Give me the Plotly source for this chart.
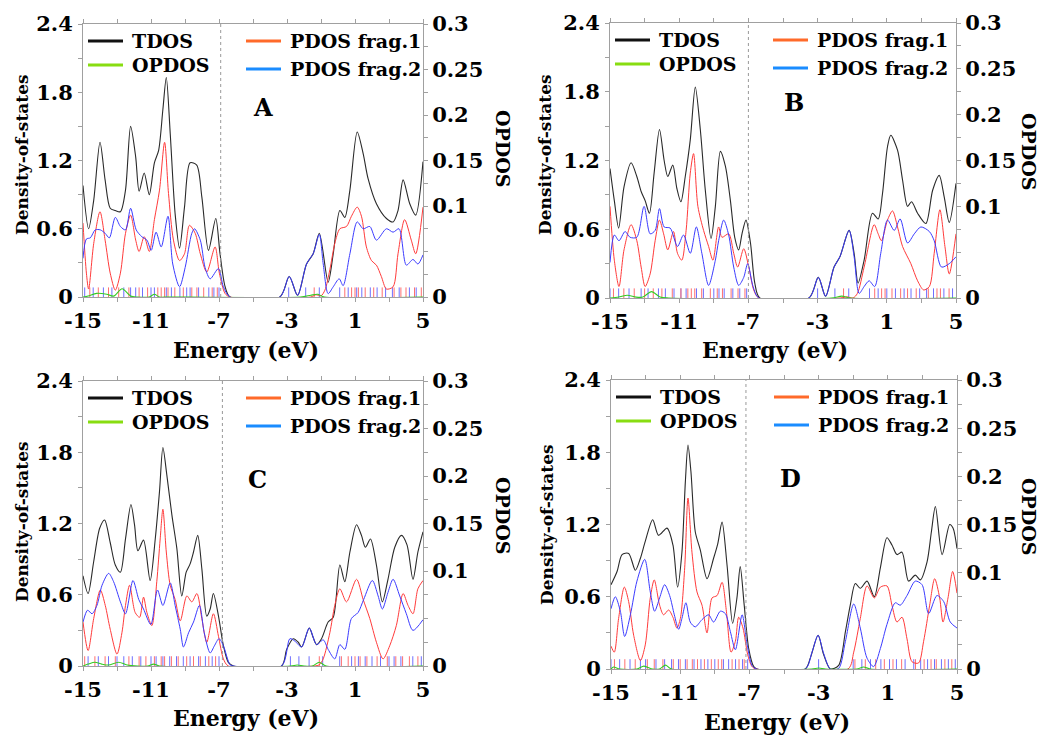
import plotly.graph_objects as go

W, H = 1043, 735

# ---------------- DATA ----------------
panel_labels = ["A", "B", "C", "D"]
homo_levels = [-6.9, -7.0, -6.8, -7.2]

# Panel A
A_tdos_x = [-15, -14.67, -14.37, -14.0, -13.7, -13.4, -13.1, -12.8, -12.5, -12.2, -11.9, -11.7, -11.4, -11.1, -10.8, -10.55, -10.3, -10.1, -9.87, -9.58, -9.32, -9.03, -8.7, -8.31, -8.01, -7.62, -7.19, -6.94, -6.64, -6.35,
            -3.42, -2.87, -2.38, -1.85, -1.46, -1.1, -0.58, -0.28, 0.11, 0.4, 0.7, 1.13, 1.48, 1.77, 2.26, 2.85, 3.24, 3.53, 3.83, 4.22, 4.57, 5.0]
A_tdos_y = [0.98, 0.60, 0.85, 1.36, 1.03, 0.78, 0.76, 0.75, 0.94, 1.50, 1.23, 0.93, 1.09, 0.90, 1.18, 1.29, 1.65, 1.93, 1.44, 0.73, 0.43, 0.79, 1.18, 1.16, 0.88, 0.41, 0.69, 0.38, 0.09, 0.0,
            0.0, 0.18, 0.015, 0.29, 0.38, 0.56, 0.13, 0.38, 0.76, 0.70, 0.94, 1.45, 1.26, 1.04, 0.82, 0.69, 0.66, 0.76, 1.03, 0.82, 0.72, 1.19]
A_frag1_x = [-15, -14.8, -14.67, -14.37, -14.0, -13.7, -13.4, -13.1, -12.8, -12.5, -12.2, -11.9, -11.7, -11.4, -11.1, -10.8, -10.5, -10.2, -9.97, -9.68, -9.32, -9.03, -8.74, -8.4, -8.1, -7.72, -7.23, -6.98, -6.64, -6.35,
             -1.6, -1.3, -1.0, -0.77, -0.48, -0.19, 0.11, 0.5, 0.79, 1.13, 1.38, 1.67, 1.97, 2.26, 2.55, 2.85, 3.24, 3.53, 3.92, 4.31, 4.57, 5.0]
A_frag1_y = [0.65, 0.21, 0.07, 0.47, 0.75, 0.50, 0.21, 0.06, 0.21, 0.56, 0.72, 0.50, 0.40, 0.53, 0.40, 0.68, 0.94, 1.36, 0.91, 0.50, 0.32, 0.38, 0.63, 0.56, 0.38, 0.22, 0.44, 0.21, 0.03, 0.0,
             0.0, 0.02, 0.01, 0.06, 0.24, 0.47, 0.60, 0.62, 0.71, 0.79, 0.71, 0.44, 0.32, 0.28, 0.18, 0.07, 0.09, 0.38, 0.68, 0.50, 0.38, 0.79]
A_frag2_x = [-15, -14.8, -14.57, -14.28, -13.98, -13.7, -13.45, -13.1, -12.8, -12.5, -12.2, -11.87, -11.54, -11.24, -10.99, -10.7, -10.4, -10.0, -9.72, -9.32, -8.99, -8.6, -8.44, -8.1, -7.82, -7.52, -7.03, -6.74, -6.35,
             -3.42, -2.87, -2.38, -1.85, -1.46, -1.1, -0.87, -0.58, -0.28, 0.07, 0.3, 0.7, 1.13, 1.48, 1.87, 2.26, 2.85, 3.24, 3.59, 4.02, 4.41, 4.7, 5.0]
A_frag2_y = [0.34, 0.51, 0.52, 0.59, 0.59, 0.56, 0.52, 0.70, 0.62, 0.59, 0.78, 0.59, 0.53, 0.50, 0.41, 0.57, 0.44, 0.71, 0.29, 0.09, 0.26, 0.56, 0.60, 0.50, 0.26, 0.16, 0.25, 0.09, 0.0,
             0.0, 0.18, 0.015, 0.29, 0.38, 0.55, 0.29, 0.03, 0.09, 0.16, 0.10, 0.38, 0.66, 0.60, 0.62, 0.50, 0.60, 0.57, 0.60, 0.28, 0.33, 0.29, 0.37]
A_opdos_x = [-15, -14.7, -14.2, -13.6, -13.2, -12.7, -12.2, -11.8, -11.1, -10.8, -10.5, -10.0, -2.2, -1.6, -1.2, -0.8, 5.0]
A_opdos_y = [0, 0.001, 0.004, 0.003, 0.001, 0.009, 0.001, 0, 0, 0.003, 0, 0, 0, 0.002, 0.003, 0, 0]
A_lvl1 = [-14.6, -14.1, -13.5, -12.9, -12.3, -11.7, -11.2, -10.6, -10.4, -10.2, -10.0, -9.6, -9.1, -8.6, -8.3, -7.9, -7.4, -7.1, -1.4, 0.4, 0.8, 1.0, 1.2, 1.6, 2.1, 2.6, 3.3, 3.7, 4.0, 4.5, 4.9]
A_lvl2 = [-14.9, -14.4, -13.8, -13.3, -12.6, -12.2, -11.9, -11.5, -11.0, -10.8, -10.1, -9.8, -9.3, -8.9, -8.7, -8.2, -7.6, -7.3, -7.0, -2.9, -1.9, -1.1, 0.1, 0.6, 1.1, 1.4, 1.9, 2.3, 2.8, 3.2, 3.6, 4.2, 4.6]

# Panel B
B_tdos_x = [-15, -14.75, -14.5, -14.19, -13.78, -13.45, -13.2, -12.97, -12.72, -12.45, -12.14, -11.87, -11.66, -11.37, -11.14, -10.9, -10.65, -10.36, -10.07, -9.78, -9.49, -9.16, -8.91, -8.62, -8.33, -8.04, -7.79, -7.56, -7.37, -7.14, -6.88, -6.63, -6.34,
            -3.5, -2.96, -2.54, -2.05, -1.71, -1.18, -0.89, -0.66, -0.31, 0.17, 0.5, 0.75, 1.04, 1.23, 1.62, 1.91, 2.2, 2.43, 2.78, 3.26, 3.65, 4.03, 4.32, 4.61, 5.0]
B_tdos_y = [1.13, 0.85, 0.61, 0.97, 1.18, 1.06, 0.93, 0.85, 0.74, 1.09, 1.47, 1.20, 1.06, 1.16, 0.96, 0.84, 1.06, 1.38, 1.84, 1.47, 0.94, 0.52, 0.80, 1.28, 1.15, 0.85, 0.53, 0.42, 0.56, 0.68, 0.48, 0.13, 0.0,
            0.0, 0.18, 0.015, 0.27, 0.36, 0.59, 0.39, 0.13, 0.33, 0.74, 0.69, 0.91, 1.32, 1.42, 1.29, 1.03, 0.80, 0.84, 0.74, 0.65, 0.94, 1.07, 0.88, 0.66, 1.00]
B_frag1_x = [-15, -14.75, -14.48, -14.19, -13.78, -13.45, -13.2, -12.97, -12.68, -12.39, -12.14, -11.9, -11.66, -11.33, -11.1, -10.85, -10.6, -10.36, -10.17, -9.92, -9.59, -9.3, -9.05, -8.72, -8.53, -8.14, -7.85, -7.62, -7.27, -6.98, -6.69, -6.4,
             -1.7, -1.3, -0.95, -0.7, -0.31, 0.27, 0.5, 0.69, 1.04, 1.33, 1.62, 1.91, 2.39, 2.78, 3.13, 3.46, 3.74, 4.07, 4.36, 4.61, 5.0]
B_frag1_y = [0.80, 0.33, 0.10, 0.42, 0.64, 0.50, 0.27, 0.10, 0.21, 0.50, 0.68, 0.56, 0.42, 0.58, 0.39, 0.33, 0.59, 1.09, 1.26, 0.80, 0.59, 0.45, 0.33, 0.62, 0.53, 0.56, 0.39, 0.27, 0.43, 0.27, 0.07, 0.0,
             0.0, 0.01, 0.0, 0.04, 0.27, 0.64, 0.56, 0.50, 0.68, 0.76, 0.62, 0.45, 0.30, 0.15, 0.07, 0.10, 0.39, 0.77, 0.45, 0.21, 0.56]
B_frag2_x = [-15, -14.75, -14.48, -14.13, -13.84, -13.45, -13.03, -12.68, -12.39, -12.14, -11.87, -11.52, -11.1, -10.75, -10.36, -10.01, -9.69, -9.3, -8.91, -8.72, -8.43, -8.14, -7.85, -7.56, -7.27, -7.04, -6.73, -6.4,
             -3.5, -2.96, -2.54, -2.05, -1.71, -1.18, -0.89, -0.6, -0.31, -0.02, 0.3, 0.65, 1.04, 1.43, 1.77, 2.2, 2.59, 2.97, 3.46, 3.74, 4.16, 4.61, 5.0]
B_frag2_y = [0.31, 0.55, 0.50, 0.58, 0.53, 0.53, 0.80, 0.56, 0.59, 0.78, 0.62, 0.61, 0.45, 0.55, 0.39, 0.62, 0.39, 0.11, 0.33, 0.50, 0.68, 0.55, 0.27, 0.11, 0.18, 0.30, 0.10, 0.0,
             0.0, 0.18, 0.015, 0.27, 0.36, 0.59, 0.36, 0.04, 0.10, 0.15, 0.10, 0.39, 0.68, 0.59, 0.69, 0.48, 0.56, 0.62, 0.58, 0.50, 0.27, 0.30, 0.36]
B_opdos_x = [-15, -14.5, -14.0, -13.5, -13.1, -12.6, -12.1, -11.6, -2.2, -1.6, -1.1, 5.0]
B_opdos_y = [0, 0.001, 0.003, 0.001, 0.001, 0.007, 0.001, 0, 0, 0.002, 0, 0]
B_lvl1 = [-14.8, -14.2, -13.6, -13.0, -12.5, -12.0, -11.4, -10.9, -10.5, -10.3, -10.1, -9.7, -9.2, -8.8, -8.5, -8.0, -7.6, -7.2, -1.5, 0.3, 0.7, 0.9, 1.3, 1.8, 2.2, 2.7, 3.4, 3.9, 4.1, 4.6]
B_lvl2 = [-15.0, -14.5, -13.9, -13.2, -12.8, -12.2, -11.8, -11.3, -10.9, -10.6, -10.0, -9.6, -9.0, -8.7, -8.4, -7.9, -7.5, -7.1, -3.0, -2.0, -1.2, 0.0, 0.5, 1.0, 1.5, 2.0, 2.4, 2.9, 3.3, 3.7, 4.3, 4.8]

# Panel C
C_tdos_x = [-15, -14.7, -14.37, -14.02, -13.73, -13.4, -13.1, -12.8, -12.5, -12.18, -11.97, -11.77, -11.44, -11.05, -10.75, -10.5, -10.3, -10.07, -9.77, -9.48, -9.19, -8.93, -8.7, -8.5, -8.25, -8.01, -7.72, -7.52, -7.33, -7.03, -6.74, -6.45, -6.15,
            -3.32, -3.02, -2.63, -2.34, -2.14, -1.69, -1.46, -1.26, -0.97, -0.58, -0.28, 0.11, 0.4, 0.7, 1.09, 1.38, 1.61, 1.91, 2.26, 2.61, 2.94, 3.34, 3.73, 4.06, 4.41, 4.7, 5.0]
C_tdos_y = [0.76, 0.61, 0.88, 1.16, 1.23, 1.04, 0.85, 0.79, 1.07, 1.36, 1.19, 0.97, 1.06, 0.72, 1.07, 1.47, 1.84, 1.61, 1.27, 0.99, 0.59, 0.79, 0.86, 0.96, 1.10, 0.82, 0.42, 0.48, 0.61, 0.42, 0.17, 0.03, 0.0,
            0.0, 0.14, 0.23, 0.20, 0.16, 0.32, 0.24, 0.18, 0.23, 0.37, 0.41, 0.85, 0.71, 0.96, 1.19, 1.10, 1.00, 1.07, 0.85, 0.54, 0.73, 1.00, 1.10, 1.02, 0.73, 0.96, 1.13]
C_frag1_x = [-15, -14.7, -14.37, -13.98, -13.69, -13.4, -13.0, -12.71, -12.5, -12.26, -11.93, -11.67, -11.44, -11.24, -10.95, -10.66, -10.46, -10.3, -10.1, -9.87, -9.58, -9.28, -8.89, -8.6, -8.3, -8.01, -7.72, -7.33, -7.03, -6.74, -6.45,
             -1.4, -1.1, -0.87, -0.48, -0.19, 0.11, 0.5, 1.09, 1.48, 1.87, 2.26, 2.65, 3.04, 3.43, 3.83, 4.12, 4.41, 4.7, 5.0]
C_frag1_y = [0.37, 0.13, 0.40, 0.64, 0.51, 0.31, 0.10, 0.28, 0.51, 0.68, 0.45, 0.41, 0.58, 0.45, 0.34, 0.71, 1.07, 1.32, 0.96, 0.68, 0.56, 0.38, 0.59, 0.54, 0.61, 0.40, 0.20, 0.44, 0.25, 0.06, 0.0,
             0.0, 0.01, 0.06, 0.28, 0.51, 0.65, 0.54, 0.73, 0.56, 0.40, 0.20, 0.06, 0.17, 0.34, 0.61, 0.51, 0.44, 0.65, 0.72]
C_frag2_x = [-15, -14.73, -14.47, -14.18, -13.88, -13.49, -13.2, -12.8, -12.5, -12.06, -11.72, -11.44, -11.01, -10.62, -10.3, -9.87, -9.58, -9.28, -9.09, -8.79, -8.5, -8.15, -7.87, -7.52, -7.27, -7.0, -6.74, -6.35, -6.15,
             -3.32, -2.83, -2.54, -2.14, -1.69, -1.26, -0.87, -0.58, -0.19, 0.11, 0.4, 0.79, 1.18, 1.51, 2.02, 2.36, 2.61, 2.94, 3.24, 3.63, 4.02, 4.41, 5.0]
C_frag2_y = [0.37, 0.47, 0.44, 0.51, 0.68, 0.78, 0.71, 0.54, 0.44, 0.72, 0.56, 0.48, 0.35, 0.64, 0.51, 0.70, 0.51, 0.31, 0.16, 0.28, 0.37, 0.51, 0.28, 0.11, 0.17, 0.23, 0.17, 0.01, 0.0,
             0.0, 0.23, 0.21, 0.16, 0.32, 0.18, 0.22, 0.14, 0.06, 0.18, 0.14, 0.40, 0.45, 0.56, 0.72, 0.59, 0.48, 0.62, 0.73, 0.59, 0.44, 0.30, 0.39]
C_opdos_x = [-15, -14.7, -14.3, -13.9, -13.5, -12.9, -12.4, -11.2, -10.85, -10.5, -2.8, -2.4, -2.0, -1.5, -1.1, -0.7, 5.0]
C_opdos_y = [0, 0.002, 0.004, 0.002, 0.001, 0.004, 0.001, 0, 0.002, 0, 0, 0.001, 0, 0, 0.004, 0, 0]
C_lvl1 = [-14.9, -14.3, -13.7, -13.1, -12.3, -11.7, -11.3, -10.8, -10.4, -10.2, -9.8, -9.4, -8.9, -8.5, -8.1, -7.6, -7.2, -1.1, 0.2, 0.6, 1.0, 1.3, 1.7, 2.3, 2.9, 3.4, 3.8, 4.2, 4.7]
C_lvl2 = [-14.7, -14.1, -13.5, -13.0, -12.6, -12.1, -11.6, -11.0, -10.7, -10.3, -9.9, -9.5, -9.1, -8.7, -8.2, -7.8, -7.4, -7.0, -2.8, -2.3, -1.7, -0.9, 0.1, 0.8, 1.2, 1.6, 2.0, 2.5, 3.0, 3.3, 3.7, 4.4, 4.9]

# Panel D
D_tdos_x = [-15, -14.65, -14.36, -13.98, -13.59, -13.3, -13.02, -12.59, -12.25, -11.76, -11.42, -11.15, -10.9, -10.7, -10.55, -10.38, -10.13, -9.84, -9.45, -9.07, -8.83, -8.58, -8.29, -7.97, -7.72, -7.53, -7.3, -7.04, -6.75, -6.56,
            -3.77, -3.48, -3.03, -2.71, -2.32, -1.84, -1.45, -1.17, -0.88, -0.59, -0.2, 0.22, 0.57, 0.95, 1.24, 1.53, 1.82, 2.2, 2.59, 2.88, 3.27, 3.52, 3.75, 4.14, 4.58, 4.77, 5.0]
D_tdos_y = [0.70, 0.81, 0.95, 0.96, 0.82, 0.92, 1.06, 1.24, 1.11, 1.17, 1.03, 0.68, 0.97, 1.56, 1.86, 1.64, 1.14, 0.99, 0.75, 0.92, 1.04, 1.22, 0.86, 0.38, 0.59, 0.85, 0.53, 0.17, 0.02, 0.0,
            0.0, 0.09, 0.28, 0.12, 0.0, 0.03, 0.31, 0.53, 0.71, 0.67, 0.73, 0.60, 0.84, 1.09, 1.03, 0.95, 0.97, 0.73, 0.78, 0.74, 0.89, 1.14, 1.35, 0.95, 1.20, 1.17, 1.00]
D_frag1_x = [-15, -14.81, -14.56, -14.23, -13.98, -13.69, -13.3, -13.02, -12.73, -12.5, -12.19, -11.96, -11.67, -11.42, -11.19, -10.99, -10.74, -10.55, -10.32, -10.03, -9.74, -9.45, -9.16, -8.87, -8.58, -8.33, -8.06, -7.81, -7.62, -7.37, -7.1, -6.85, -6.6,
             -1.3, -0.97, -0.59, -0.2, 0.22, 0.57, 0.95, 1.24, 1.53, 1.82, 2.11, 2.4, 2.78, 3.07, 3.42, 3.71, 4.0, 4.19, 4.48, 4.75, 5.0]
D_frag1_y = [0.19, 0.14, 0.42, 0.68, 0.56, 0.28, 0.07, 0.20, 0.59, 0.74, 0.53, 0.45, 0.49, 0.43, 0.34, 0.42, 0.84, 1.42, 0.97, 0.64, 0.53, 0.30, 0.59, 0.61, 0.72, 0.48, 0.14, 0.23, 0.43, 0.34, 0.12, 0.02, 0.0,
             0.0, 0.14, 0.42, 0.69, 0.59, 0.68, 0.69, 0.53, 0.39, 0.43, 0.25, 0.06, 0.05, 0.23, 0.53, 0.75, 0.59, 0.39, 0.59, 0.81, 0.63]
D_frag2_x = [-15, -14.75, -14.46, -14.21, -13.88, -13.5, -13.05, -12.73, -12.48, -12.19, -11.9, -11.61, -11.34, -11.09, -10.9, -10.67, -10.42, -10.13, -9.74, -9.36, -9.07, -8.68, -8.39, -8.1, -7.81, -7.42, -7.13, -6.85, -6.6,
             -3.77, -3.38, -3.03, -2.71, -2.32, -1.84, -1.45, -0.97, -0.59, -0.2, 0.18, 0.57, 0.95, 1.43, 1.72, 2.11, 2.59, 2.98, 3.36, 3.84, 4.23, 4.61, 5.0]
D_frag2_y = [0.50, 0.60, 0.48, 0.27, 0.45, 0.73, 0.91, 0.64, 0.48, 0.59, 0.70, 0.61, 0.45, 0.33, 0.42, 0.55, 0.39, 0.35, 0.41, 0.45, 0.39, 0.48, 0.46, 0.31, 0.16, 0.45, 0.20, 0.03, 0.0,
             0.0, 0.14, 0.28, 0.13, 0.0, 0.005, 0.23, 0.54, 0.34, 0.09, 0.02, 0.17, 0.37, 0.55, 0.53, 0.61, 0.73, 0.70, 0.46, 0.61, 0.56, 0.39, 0.34]
D_opdos_x = [-15, -14.85, -14.5, -13.5, -13.1, -12.6, -12.2, -11.85, -11.5, -3.4, -3.0, -2.6, -0.8, -0.4, 0.0, 5.0]
D_opdos_y = [0, 0.002, 0, 0, 0.003, 0, 0, 0.004, 0, 0, 0.001, 0, 0, 0.002, 0, 0]
D_lvl1 = [-14.8, -14.2, -13.6, -12.9, -12.5, -12.0, -11.4, -11.0, -10.6, -10.3, -10.0, -9.6, -9.2, -8.8, -8.6, -8.0, -7.6, -7.3, -0.9, -0.3, 0.3, 0.8, 1.3, 1.8, 2.6, 3.1, 3.5, 3.8, 4.3, 4.7]
D_lvl2 = [-15.0, -14.5, -13.9, -13.3, -13.0, -12.4, -11.9, -11.5, -11.1, -10.7, -10.2, -9.8, -9.4, -9.0, -8.5, -8.2, -7.8, -7.4, -7.1, -3.0, -1.0, -0.5, 0.0, 0.6, 1.1, 1.5, 2.0, 2.5, 2.9, 3.3, 3.7, 4.1, 4.5, 4.9]

x_tickvals = [-15, -11, -7, -3, 1, 5]
x_ticktext = ["-15", "-11", "-7", "-3", "1", "5"]
x_minor = [-13, -9, -5, -1, 3]
y_tickvals = [0, 0.6, 1.2, 1.8, 2.4]
y_ticktext = ["0", "0.6", "1.2", "1.8", "2.4"]
y_minor = [0.3, 0.9, 1.5, 2.1]
y2_tickvals = [0, 0.1, 0.15, 0.2, 0.25, 0.3]
y2_ticktext = ["0", "0.1", "0.15", "0.2", "0.25", "0.3"]
y2_minor = [0.025, 0.05, 0.075, 0.125, 0.175, 0.225, 0.275]

legend_names = ["TDOS", "OPDOS", "PDOS frag.1", "PDOS frag.2"]

panels = [
    dict(tx=A_tdos_x, ty=A_tdos_y, f1x=A_frag1_x, f1y=A_frag1_y, f2x=A_frag2_x, f2y=A_frag2_y, ox=A_opdos_x, oy=A_opdos_y, l1=A_lvl1, l2=A_lvl2),
    dict(tx=B_tdos_x, ty=B_tdos_y, f1x=B_frag1_x, f1y=B_frag1_y, f2x=B_frag2_x, f2y=B_frag2_y, ox=B_opdos_x, oy=B_opdos_y, l1=B_lvl1, l2=B_lvl2),
    dict(tx=C_tdos_x, ty=C_tdos_y, f1x=C_frag1_x, f1y=C_frag1_y, f2x=C_frag2_x, f2y=C_frag2_y, ox=C_opdos_x, oy=C_opdos_y, l1=C_lvl1, l2=C_lvl2),
    dict(tx=D_tdos_x, ty=D_tdos_y, f1x=D_frag1_x, f1y=D_frag1_y, f2x=D_frag2_x, f2y=D_frag2_y, ox=D_opdos_x, oy=D_opdos_y, l1=D_lvl1, l2=D_lvl2),
]

# ---------------- LAYOUT / STYLE ----------------
# plot frames in pixels: left, right, top, bottom
frames = [(83, 423, 24, 297), (610, 956, 23, 298), (83, 423, 381, 666), (611, 957, 380, 669)]
letter_pos = [(263, 108), (794, 102), (257, 479), (790, 478)]
energy_pos = [(246, 350), (775, 350), (246, 718), (777, 722)]
dos_pos = [(22, 155), (545, 155), (22, 522), (547, 525)]
opdos_pos = [(503, 149), (1029, 152), (503, 516), (1029, 517)]

FONT = "DejaVu Serif"
C_T, C_F1, C_F2, C_O = "#2a2a2a", "#ff3b3b", "#3b3bff", "#33cc22"
LEG_COLORS = ["#111111", "#88dd11", "#ff6a2a", "#1a8cff"]
AX = "#a0a0a0"


def px(x):
    return x / W


def py(y):
    return 1 - y / H


fig = go.Figure()
shapes, annotations = [], []
layout = {}

for i, p in enumerate(panels):
    xa = "x" + ("" if i == 0 else str(i + 1))
    yl = "y" + ("" if i == 0 else str(2 * i + 1))
    yr = "y" + str(2 * i + 2)
    L, R, T, B = frames[i]

    # rug of levels
    fig.add_trace(go.Scatter(x=p["l2"], y=[0.035] * len(p["l2"]), mode="markers", xaxis=xa, yaxis=yl,
                             marker=dict(symbol="line-ns", size=8, line=dict(color="#6f6fff", width=1)),
                             showlegend=False, hoverinfo="skip"))
    fig.add_trace(go.Scatter(x=p["l1"], y=[0.035] * len(p["l1"]), mode="markers", xaxis=xa, yaxis=yl,
                             marker=dict(symbol="line-ns", size=8, line=dict(color="#ff6f6f", width=1)),
                             showlegend=False, hoverinfo="skip"))
    # curves
    fig.add_trace(go.Scatter(x=p["tx"], y=p["ty"], mode="lines", xaxis=xa, yaxis=yl, name="TDOS",
                             line=dict(color=C_T, width=1.1, shape="spline", smoothing=0.8), showlegend=False))
    fig.add_trace(go.Scatter(x=p["f1x"], y=p["f1y"], mode="lines", xaxis=xa, yaxis=yl, name="PDOS frag.1",
                             line=dict(color=C_F1, width=1, shape="spline", smoothing=0.8), showlegend=False))
    fig.add_trace(go.Scatter(x=p["f2x"], y=p["f2y"], mode="lines", xaxis=xa, yaxis=yl, name="PDOS frag.2",
                             line=dict(color=C_F2, width=1, shape="spline", smoothing=0.8), showlegend=False))
    fig.add_trace(go.Scatter(x=p["ox"], y=p["oy"], mode="lines", xaxis=xa, yaxis=yr, name="OPDOS",
                             line=dict(color=C_O, width=1.1, shape="spline", smoothing=0.8), showlegend=False))

    tickfont = dict(family=FONT, size=21, color="black", weight="bold")
    xkey = "xaxis" + ("" if i == 0 else str(i + 1))
    ylkey = "yaxis" + ("" if i == 0 else str(2 * i + 1))
    yrkey = "yaxis" + str(2 * i + 2)
    layout[xkey] = dict(domain=[px(L), px(R)], anchor=yl, range=[-15, 5], tickmode="array", automargin=False,
                        tickvals=x_tickvals, ticktext=x_ticktext, ticks="outside", ticklen=4, tickcolor=AX,
                        minor=dict(tickmode="array", tickvals=x_minor, ticks="outside", ticklen=4, tickcolor=AX),
                        showline=True, linecolor=AX, linewidth=1, mirror="ticks", showgrid=False, zeroline=False,
                        tickfont=tickfont, ticklabelstandoff=1)
    layout[ylkey] = dict(domain=[py(B), py(T)], anchor=xa, range=[0, 2.4], tickmode="array", automargin=False,
                         tickvals=y_tickvals, ticktext=y_ticktext, ticks="outside", ticklen=4, tickcolor=AX,
                         minor=dict(tickmode="array", tickvals=y_minor, ticks="outside", ticklen=4, tickcolor=AX),
                         showline=True, linecolor=AX, linewidth=1, showgrid=False, zeroline=False,
                         tickfont=tickfont, ticklabelstandoff=1)
    layout[yrkey] = dict(overlaying=yl, side="right", anchor=xa, range=[0, 0.3], tickmode="array", automargin=False,
                         tickvals=y2_tickvals, ticktext=y2_ticktext, ticks="outside", ticklen=4, tickcolor=AX,
                         minor=dict(tickmode="array", tickvals=y2_minor, ticks="outside", ticklen=4, tickcolor=AX),
                         showline=True, linecolor=AX, linewidth=1, showgrid=False, zeroline=False,
                         tickfont=tickfont, ticklabelstandoff=0)

    # HOMO dotted line
    shapes.append(dict(type="line", xref=xa, yref=yl + " domain", x0=homo_levels[i], x1=homo_levels[i], y0=0, y1=1,
                       line=dict(color="#999999", width=1, dash="dot")))

    # legend (drawn)
    leg = [(L + 5, L + 40, T + 17, L + 47), (L + 5, L + 40, T + 41, L + 47),
           (L + 163, L + 198, T + 17, L + 205), (L + 163, L + 198, T + 45, L + 205)]
    for k, (x0, x1, yy, xt) in enumerate(leg):
        shapes.append(dict(type="line", xref="paper", yref="paper", x0=px(x0), x1=px(x1), y0=py(yy), y1=py(yy),
                           line=dict(color=LEG_COLORS[k], width=3)))
        annotations.append(dict(xref="paper", yref="paper", x=px(xt), y=py(yy), text=legend_names[k],
                                showarrow=False, xanchor="left", yanchor="middle",
                                font=dict(family=FONT, size=19, color="black", weight="bold")))

    annotations.append(dict(xref="paper", yref="paper", x=px(letter_pos[i][0]), y=py(letter_pos[i][1]),
                            text=panel_labels[i], showarrow=False, xanchor="center", yanchor="middle",
                            font=dict(family=FONT, size=24, color="black", weight="bold")))
    annotations.append(dict(xref="paper", yref="paper", x=px(energy_pos[i][0]), y=py(energy_pos[i][1]),
                            text="Energy (eV)", showarrow=False, xanchor="center", yanchor="middle",
                            font=dict(family=FONT, size=22, color="black", weight="bold")))
    annotations.append(dict(xref="paper", yref="paper", x=px(dos_pos[i][0]), y=py(dos_pos[i][1]),
                            text="Density-of-states", showarrow=False, xanchor="center", yanchor="middle",
                            textangle=-90, font=dict(family=FONT, size=17, color="black", weight="bold")))
    annotations.append(dict(xref="paper", yref="paper", x=px(opdos_pos[i][0]), y=py(opdos_pos[i][1]),
                            text="OPDOS", showarrow=False, xanchor="center", yanchor="middle",
                            textangle=90, font=dict(family=FONT, size=19, color="black", weight="bold")))

fig.update_layout(template="none", width=W, height=H, margin=dict(l=0, r=0, t=0, b=0, pad=0),
                  plot_bgcolor="white", paper_bgcolor="white", showlegend=False,
                  shapes=shapes, annotations=annotations, **layout)

fig.write_html("out.html")
